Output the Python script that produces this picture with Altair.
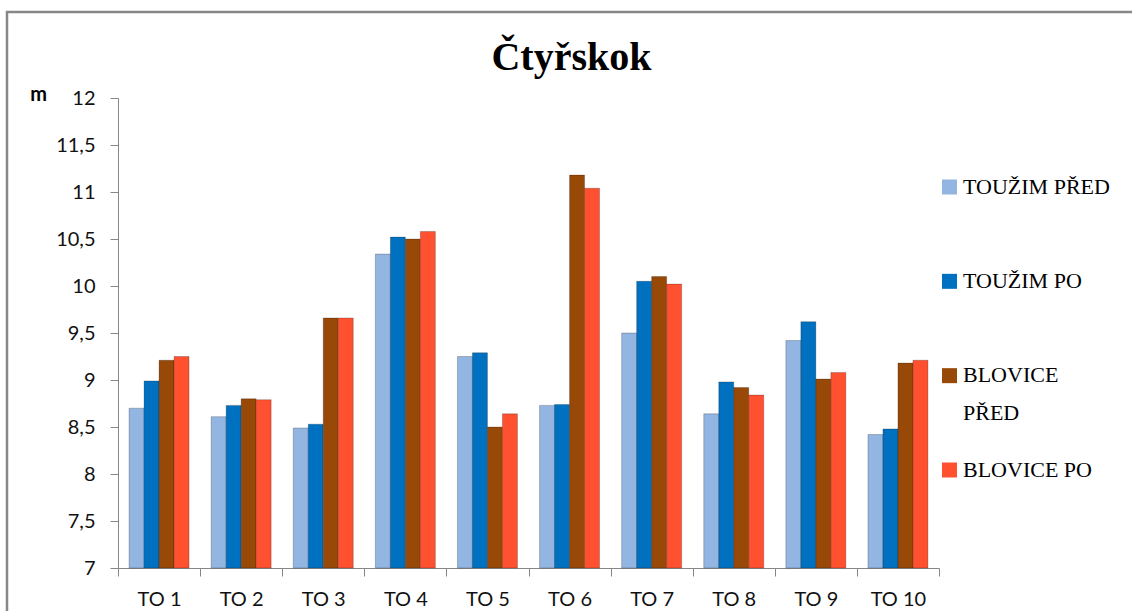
import altair as alt
import pandas as pd

categories = ["TO 1", "TO 2", "TO 3", "TO 4", "TO 5", "TO 6", "TO 7", "TO 8", "TO 9", "TO 10"]
series = ["TOUŽIM PŘED", "TOUŽIM PO", "BLOVICE PŘED", "BLOVICE PO"]
legend_labels = ["TOUŽIM PŘED", "TOUŽIM PO", "BLOVICE\nPŘED", "BLOVICE PO"]
touzim_pred = [8.70, 8.61, 8.49, 10.34, 9.25, 8.73, 9.50, 8.64, 9.42, 8.42]
touzim_po = [8.99, 8.73, 8.53, 10.52, 9.29, 8.74, 10.05, 8.98, 9.62, 8.48]
blovice_pred = [9.21, 8.80, 9.66, 10.50, 8.50, 11.18, 10.10, 8.92, 9.01, 9.18]
blovice_po = [9.25, 8.79, 9.66, 10.58, 8.64, 11.04, 10.02, 8.84, 9.08, 9.21]
colors = ["#93B5E1", "#0070C0", "#984807", "#FF5030"]
y_ticks = [7, 7.5, 8, 8.5, 9, 9.5, 10, 10.5, 11, 11.5, 12]

rows = []
for s, vals in zip(series, [touzim_pred, touzim_po, blovice_pred, blovice_po]):
    for c, v in zip(categories, vals):
        rows.append({"cat": c, "serie": s, "val": v})
df = pd.DataFrame(rows)
leg_df = pd.DataFrame({"serie": series, "label": legend_labels})

W, H = 821, 470
PL, PT = 118, 98

color_scale = alt.Scale(domain=series, range=colors)

frame = alt.Chart(alt.Data(values=[{"k": 1}])).mark_rect(
    fill="transparent", stroke="#878787", strokeWidth=2.5
).encode(
    x=alt.value(-PL + 7), x2=alt.value(1132 - PL + 20),
    y=alt.value(-PT + 12), y2=alt.value(611 - PT + 20)
)

bars = alt.Chart(df).mark_bar(
    stroke="black", strokeOpacity=0.22, strokeWidth=1
).encode(
    x=alt.X("cat:N", sort=categories,
            scale=alt.Scale(paddingInner=0, paddingOuter=0),
            axis=alt.Axis(title=None, labelAngle=0, tickBand="extent",
                          domainColor="#878787", tickColor="#878787",
                          tickSize=8, labelPadding=13,
                          labelFont="Lato", labelFontSize=20, labelColor="#111111")),
    xOffset=alt.XOffset("serie:N", sort=series,
                        scale=alt.Scale(paddingInner=0, paddingOuter=0.737)),
    y=alt.Y("val:Q", scale=alt.Scale(domain=[7, 12], zero=False, nice=False),
            axis=alt.Axis(values=y_ticks, grid=False, title="m",
                          labelExpr="replace(toString(datum.value), '.', ',')",
                          domainColor="#878787", tickColor="#878787",
                          tickSize=8, labelPadding=15,
                          labelFont="Lato", labelFontSize=20, labelColor="#111111",
                          titleAngle=0, titleX=-80, titleY=-4,
                          titleAlign="center", titleBaseline="middle",
                          titleFont="Lato", titleFontSize=20, titleFontWeight="bold")),
    y2=alt.datum(7),
    color=alt.Color("serie:N", sort=series, scale=color_scale, legend=None),
)

leg_y = alt.Y("serie:N", sort=series,
              scale=alt.Scale(domain=series, range=[187 - PT, 470 - PT], padding=0),
              axis=None)

leg_sym = alt.Chart(leg_df).mark_square(size=225, opacity=1).encode(
    x=alt.value(949.5 - PL),
    y=leg_y,
    color=alt.Color("serie:N", sort=series, scale=color_scale, legend=None),
)

leg_txt = alt.Chart(leg_df).mark_text(
    align="left", baseline="top", dy=-10.5, font="Liberation Serif", fontSize=22,
    color="#000000", lineBreak="\n", lineHeight=38
).encode(
    x=alt.value(963 - PL),
    y=leg_y,
    text="label:N",
)

chart = alt.layer(frame, bars, leg_sym, leg_txt).resolve_scale(y="independent").properties(
    width=W, height=H,
    background="white",
    title=alt.TitleParams("Čtyřskok", font="Liberation Serif", fontSize=40,
                          fontWeight="bold", color="#000000", anchor="middle",
                          baseline="alphabetic", dx=43, dy=113, offset=14),
    autosize=alt.AutoSizeParams(type="none"),
    padding={"left": PL, "top": PT, "right": 1132 - PL - W, "bottom": 611 - PT - H},
).configure_view(strokeWidth=0, stroke="transparent")

chart.save("out.html", embed_options={"renderer": "svg", "actions": False})
